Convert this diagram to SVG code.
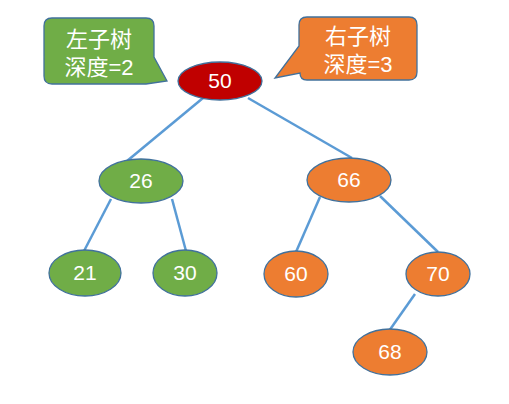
<svg xmlns="http://www.w3.org/2000/svg" width="509" height="404" viewBox="0 0 509 404">
<style>
.g{fill:#70AD47;stroke:#41719C;stroke-width:1.3}
.o{fill:#ED7D31;stroke:#41719C;stroke-width:1.3}
.r{fill:#C00000;stroke:#41719C;stroke-width:1.3}
.t{fill:#fff;font-family:"Liberation Sans","Noto Sans CJK SC",sans-serif;font-size:21px;text-anchor:middle}
.c{fill:#fff;font-family:"Liberation Sans","Noto Sans CJK SC",sans-serif;font-size:22px;text-anchor:middle}
.e{stroke:#5B9BD5;stroke-width:2.5;fill:none}
</style>
<rect width="509" height="404" fill="#fff"/>
<g id="edges">
<line class="e" x1="203" y1="98" x2="127" y2="161"/>
<line class="e" x1="248" y1="98" x2="352" y2="158"/>
<line class="e" x1="111" y1="199" x2="84" y2="251"/>
<line class="e" x1="172" y1="199" x2="186" y2="251"/>
<line class="e" x1="320" y1="197" x2="296" y2="252"/>
<line class="e" x1="380" y1="196" x2="438" y2="252"/>
<line class="e" x1="415" y1="294" x2="389" y2="331"/>
</g>
<g id="callout-left">
<path class="g" d="M52,18 H146 Q154,18 154,26 V57 L167,81 L146,84 H52 Q44,84 44,76 V26 Q44,18 52,18 Z"/>
<text class="c" x="99" y="47">左子树</text>
<text class="c" x="99" y="75">深度=2</text>
</g>
<g id="callout-right">
<path class="o" d="M307,17 H409 Q417,17 417,25 V72 Q417,80 409,80 H307 Q300,80 300,73 L275,78 L299,46 V25 Q299,17 307,17 Z"/>
<text class="c" x="358" y="44">右子树</text>
<text class="c" x="358" y="72">深度=3</text>
</g>
<g id="n50"><ellipse class="r" cx="220" cy="81" rx="42" ry="19"/><text class="t" x="220" y="88">50</text></g>
<g id="n26"><ellipse class="g" cx="141" cy="181" rx="42" ry="22"/><text class="t" x="141" y="188">26</text></g>
<g id="n66"><ellipse class="o" cx="349" cy="180" rx="42" ry="22"/><text class="t" x="349" y="187">66</text></g>
<g id="n21"><ellipse class="g" cx="85" cy="273" rx="36" ry="23"/><text class="t" x="85" y="280">21</text></g>
<g id="n30"><ellipse class="g" cx="185" cy="273" rx="32" ry="23"/><text class="t" x="185" y="280">30</text></g>
<g id="n60"><ellipse class="o" cx="296" cy="274" rx="32" ry="23"/><text class="t" x="296" y="281">60</text></g>
<g id="n70"><ellipse class="o" cx="438" cy="274" rx="32" ry="22"/><text class="t" x="438" y="281">70</text></g>
<g id="n68"><ellipse class="o" cx="390" cy="352" rx="37" ry="23"/><text class="t" x="390" y="359">68</text></g>
</svg>
